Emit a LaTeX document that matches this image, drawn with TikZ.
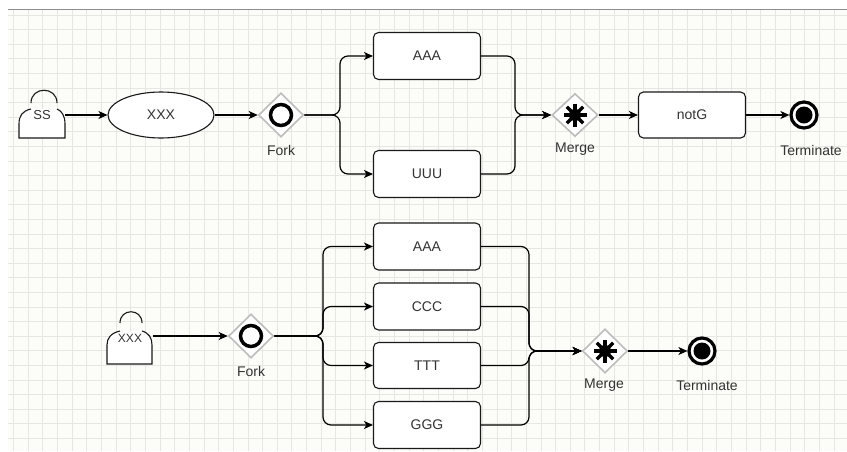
\documentclass[tikz,border=0pt]{standalone}
\usepackage{fontspec}
\setmainfont{Liberation Sans}
\usetikzlibrary{arrows.meta,shapes.geometric}
\definecolor{bgcol}{HTML}{FCFCF8}
\definecolor{gridcol}{HTML}{E6E6E2}
\definecolor{txtcol}{HTML}{333333}
\definecolor{diacol}{HTML}{BDBDBD}
\tikzset{
  conn/.style={draw=black, line width=1.2pt, -{Stealth[length=9pt,width=8pt,inset=2.5pt]}, rounded corners=8pt},
  taskbox/.style={rectangle, rounded corners=5pt, draw=black!90, line width=1.1pt, fill=white,
    minimum width=107pt, minimum height=47pt, inner sep=0pt, text=txtcol, font=\fontsize{14pt}{16pt}\selectfont},
  gate/.style={diamond, aspect=1, draw=diacol, line width=1.6pt, fill=white, minimum width=45pt, minimum height=44pt, inner sep=0pt},
  lbl/.style={text=txtcol, font=\fontsize{14pt}{16pt}\selectfont, inner sep=0pt},
  baglbl/.style={text=txtcol, font=\fontsize{13pt}{15pt}\selectfont, inner sep=0pt},
  bagline/.style={draw=black!90, line width=1.1pt},
  endring/.style={circle, draw=black, line width=3.2pt, fill=white, minimum size=26pt, inner sep=0pt}
}
\begin{document}
\begin{tikzpicture}[x=1pt,y=-1pt]
\useasboundingbox (0,0) rectangle (847,451);
% background grid
\fill[white] (0,0) rectangle (847,451);
\fill[bgcol] (8,9) rectangle (847,451);
\foreach \i in {0,...,57} {\draw[gridcol, line width=0.8pt] ({13.5+14.65*\i},9) -- ({13.5+14.65*\i},451);}
\foreach \j in {0,...,29} {\draw[gridcol, line width=0.8pt] (8,{15+14.6*\j}) -- (847,{15+14.6*\j});}
\draw[black!45, line width=0.8pt] (8,9) -- (847,9);

% ---------- top row ----------
% SS bag
\fill[white] (31,109) .. controls (22,111) and (19,116) .. (19,124) -- (19,138) -- (65,138) -- (65,124) .. controls (65,116) and (62,111) .. (57,109) -- cycle;
\draw[bagline] (31,103) .. controls (31,86) and (57,86) .. (57,103);
\draw[bagline] (31,109) .. controls (22,111) and (19,116) .. (19,124) -- (19,138) -- (65,138) -- (65,124) .. controls (65,116) and (62,111) .. (57,109);
\node[baglbl, minimum width=46pt, minimum height=20pt] (ss) at (42,115) {SS};

\node[ellipse, draw=black!90, line width=1.1pt, fill=white, minimum width=106pt, minimum height=46pt, inner sep=0pt, text=txtcol, font=\fontsize{14pt}{16pt}\selectfont] (xxx) at (161,115) {XXX};

\node[gate] (fork1) at (281,115) {};
\draw[black, line width=3.5pt] (fork1.center) circle (10.5pt);
\node[lbl] (forklbl1) at (281,150) {Fork};

\node[taskbox] (aaa1) at (427,56) {AAA};
\node[taskbox] (uuu1) at (427,174) {UUU};

\coordinate (bx1) at (340,115);
\coordinate (mx1) at (515,115);

\node[gate, minimum width=46pt, minimum height=43pt] (merge1) at (575,115) {};
\foreach \a in {0,45,90,135} {\draw[black, line width=3.5pt] (merge1.center) ++(\a:11.5pt) -- ++(\a+180:23pt);}
\fill[black] (merge1.center) circle (6pt);
\node[lbl] (mergelbl1) at (575,149) {Merge};

\node[taskbox, minimum height=46pt] (notg) at (692,115) {notG};

\node[endring] (term1) at (804,115) {};
\fill[black] (term1.center) circle (8.5pt);
\node[lbl] (termlbl1) at (811,150) {Terminate};

\draw[conn] (ss.east) -- (xxx.west);
\draw[conn] (xxx.east) -- (fork1.west);
\draw[conn] (fork1.east) -- (bx1) |- (aaa1.west);
\draw[conn] (fork1.east) -- (bx1) |- (uuu1.west);
\draw[conn] (aaa1.east) -| (mx1) -- (merge1.west);
\draw[conn] (uuu1.east) -| (mx1) -- (merge1.west);
\draw[conn] (merge1.east) -- (notg.west);
\draw[conn] (notg.east) -- (term1.west);

% ---------- bottom row ----------
\fill[white] (120,331) .. controls (111,333) and (107,338) .. (107,345) -- (107,364) -- (152,364) -- (152,345) .. controls (152,338) and (149,333) .. (142,331) -- cycle;
\draw[bagline] (120,323) .. controls (120,308) and (142,308) .. (142,323);
\draw[bagline] (120,331) .. controls (111,333) and (107,338) .. (107,345) -- (107,364) -- (152,364) -- (152,345) .. controls (152,338) and (149,333) .. (142,331);
\node[baglbl, font=\fontsize{12pt}{14pt}\selectfont, minimum width=45pt, minimum height=20pt] (xxx2) at (130,338.5) {XXX};

\node[gate] (fork2) at (251,336) {};
\draw[black, line width=3.5pt] (fork2.center) circle (10.5pt);
\node[lbl] (forklbl2) at (251,371) {Fork};

\node[taskbox] (aaa2) at (427,246.5) {AAA};
\node[taskbox] (ccc2) at (427,306.5) {CCC};
\node[taskbox, minimum height=46pt] (ttt2) at (427,365.5) {TTT};
\node[taskbox] (ggg2) at (427,425) {GGG};

\coordinate (bx2) at (323,336);
\coordinate (mx2) at (529,351);

\node[gate] (merge2) at (605,351) {};
\foreach \a in {0,45,90,135} {\draw[black, line width=3.5pt] (merge2.center) ++(\a:11.5pt) -- ++(\a+180:23pt);}
\fill[black] (merge2.center) circle (6pt);
\node[lbl] (mergelbl2) at (604,385) {Merge};

\node[endring] (term2) at (702,351) {};
\fill[black] (term2.center) circle (8.5pt);
\node[lbl] (termlbl2) at (707,385) {Terminate};

\draw[conn] (xxx2.east |- fork2.west) -- (fork2.west);
\draw[conn] (fork2.east) -- (bx2) |- (aaa2.west);
\draw[conn] (fork2.east) -- (bx2) |- (ccc2.west);
\draw[conn] (fork2.east) -- (bx2) |- (ttt2.west);
\draw[conn] (fork2.east) -- (bx2) |- (ggg2.west);
\draw[conn] (aaa2.east) -| (mx2) -- (merge2.west);
\draw[conn] (ccc2.east) -| (mx2) -- (merge2.west);
\draw[conn] (ttt2.east) -| (mx2) -- (merge2.west);
\draw[conn] (ggg2.east) -| (mx2) -- (merge2.west);
\draw[conn] (merge2.east) -- (term2.west);
\end{tikzpicture}
\end{document}
